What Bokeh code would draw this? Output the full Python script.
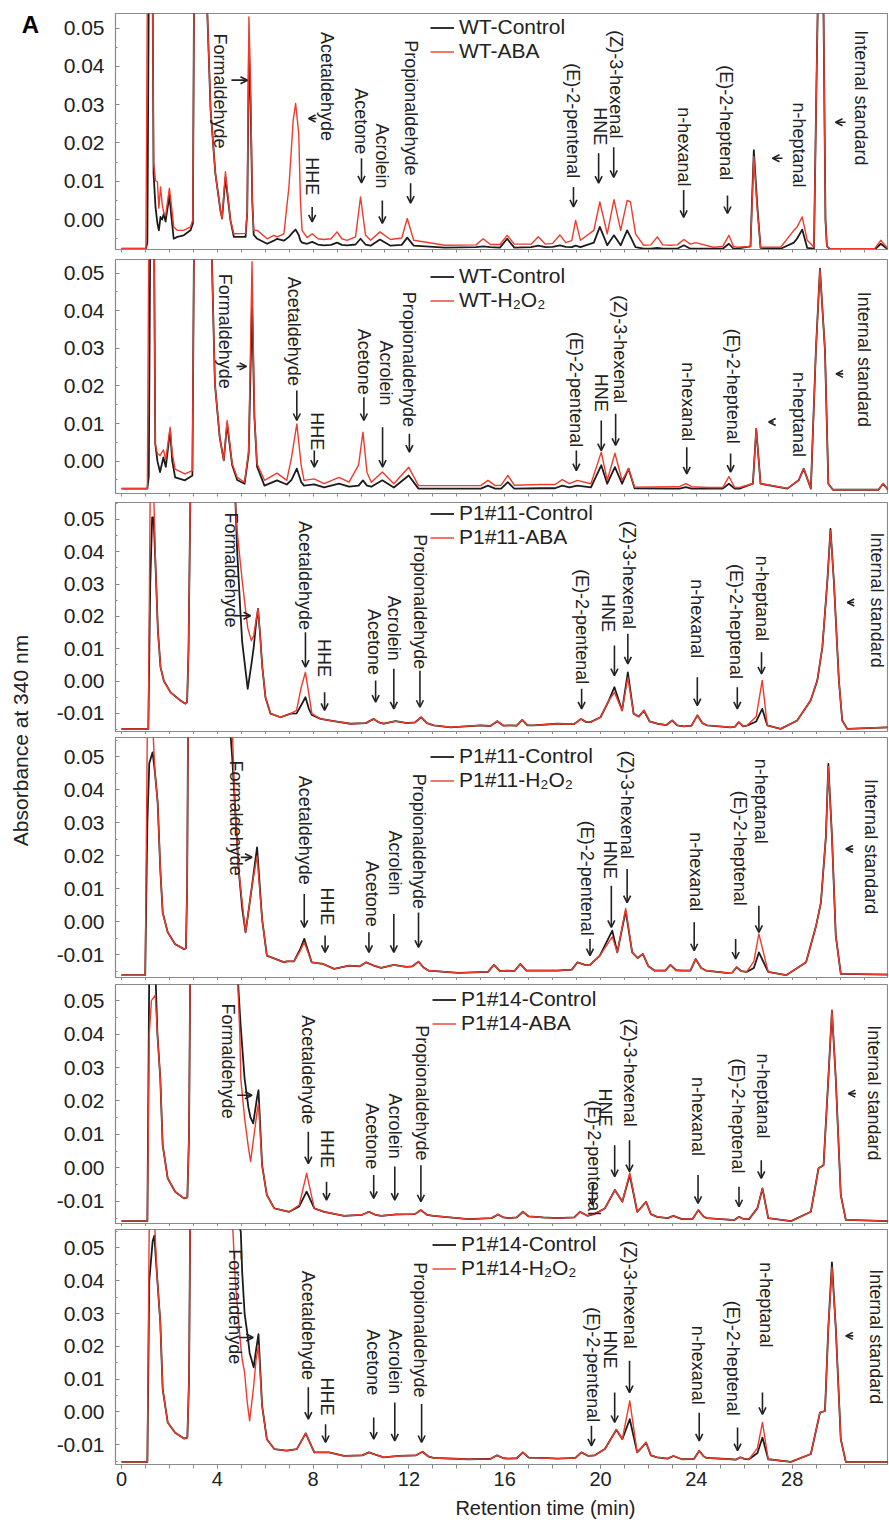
from math import pi
from bokeh.plotting import figure
from bokeh.layouts import row, column
from bokeh.models import (Range1d, FixedTicker, PrintfTickFormatter, Legend, LegendItem,
                          Arrow, OpenHead, ColumnDataSource)
from bokeh.embed import file_html
from bokeh.resources import INLINE
from bokeh.core.properties import value

# ---------------- data (time min, control, treatment) ----------------
P1_ROWS = [
    (0.00, -0.0076, -0.0076), (1.02, -0.0076, -0.0076), (1.08, -0.0060, 0.0600), (1.14, 0.0600, 0.0600),
    (1.30, 0.0600, 0.0600), (1.34, 0.0120, 0.0150), (1.42, 0.0033, 0.0102), (1.50, -0.0010, 0.0098),
    (1.56, -0.0028, 0.0030), (1.63, 0.0007, 0.0085), (1.70, 0.0000, 0.0040), (1.77, 0.0016, 0.0016),
    (1.84, -0.0005, 0.0010), (2.00, 0.0063, 0.0082), (2.08, 0.0010, 0.0040), (2.18, -0.0050, -0.0019),
    (2.33, -0.0045, -0.0028), (2.60, -0.0041, -0.0028), (2.88, -0.0028, -0.0019), (2.98, -0.0010, 0.0000),
    (3.03, 0.0600, 0.0600), (3.55, 0.0600, 0.0600), (3.72, 0.0286, 0.0286), (3.92, 0.0120, 0.0120),
    (4.13, 0.0024, 0.0024), (4.20, 0.0003, 0.0003), (4.34, 0.0110, 0.0125), (4.55, -0.0002, -0.0002),
    (4.69, -0.0045, -0.0037), (5.18, -0.0045, -0.0036), (5.25, 0.0020, 0.0020), (5.32, 0.0450, 0.0529),
    (5.39, 0.0300, 0.0350), (5.46, 0.0050, 0.0050), (5.52, -0.0040, -0.0028), (5.67, -0.0050, -0.0028),
    (6.08, -0.0063, -0.0050), (6.36, -0.0055, -0.0041), (6.50, -0.0050, -0.0045), (6.78, -0.0055, -0.0037),
    (6.99, -0.0045, 0.0085), (7.17, -0.0032, 0.0260), (7.27, -0.0026, 0.0303), (7.40, -0.0040, 0.0225),
    (7.47, -0.0055, 0.0050), (7.54, -0.0060, -0.0028), (7.75, -0.0063, -0.0047), (7.96, -0.0058, -0.0037),
    (8.20, -0.0065, -0.0050), (8.45, -0.0067, -0.0052), (9.00, -0.0060, -0.0032), (9.42, -0.0067, -0.0054),
    (9.77, -0.0065, -0.0045), (9.98, -0.0050, 0.0059), (10.19, -0.0065, -0.0041), (10.40, -0.0068, -0.0054),
    (10.79, -0.0052, -0.0032), (11.23, -0.0068, -0.0052), (11.70, -0.0066, -0.0048), (11.93, -0.0047, 0.0003),
    (12.20, -0.0068, -0.0054), (13.50, -0.0073, -0.0067), (15.10, -0.0070, -0.0050), (16.10, -0.0050, -0.0041),
    (17.40, -0.0068, -0.0045), (18.30, -0.0067, -0.0040), (18.80, -0.0072, -0.0055), (18.96, -0.0068, -0.0002),
    (19.16, -0.0072, -0.0054), (19.72, -0.0060, -0.0028), (19.97, -0.0019, 0.0046), (20.28, -0.0067, -0.0037),
    (20.56, -0.0041, 0.0052), (20.84, -0.0067, -0.0028), (21.11, -0.0028, 0.0050), (21.25, -0.0045, 0.0046),
    (21.46, -0.0072, -0.0037), (21.80, -0.0076, -0.0067), (22.37, -0.0074, -0.0045), (22.90, -0.0076, -0.0067),
    (23.48, -0.0067, -0.0052), (23.97, -0.0076, -0.0060), (24.70, -0.0076, -0.0072), (25.36, -0.0063, -0.0041),
    (25.70, -0.0076, -0.0072), (26.26, -0.0070, -0.0070), (26.33, 0.0060, 0.0050), (26.40, 0.0181, 0.0165),
    (26.54, 0.0040, 0.0030), (26.68, -0.0074, -0.0072), (27.52, -0.0076, -0.0072), (28.07, -0.0060, -0.0028),
    (28.20, -0.0050, -0.0020), (28.42, -0.0026, 0.0007), (28.63, -0.0074, -0.0054), (28.91, -0.0076, -0.0072),
    (29.00, 0.0300, 0.0300), (29.08, 0.0600, 0.0600), (29.30, 0.0600, 0.0600), (29.39, 0.0000, 0.0000),
    (29.45, -0.0070, -0.0070), (29.60, -0.0078, -0.0076), (31.00, -0.0078, -0.0076), (31.70, -0.0063, -0.0054),
    (32.00, -0.0078, -0.0076),
    # baseline between the small bumps
    (8.75, -0.0066, -0.0050), (9.20, -0.0066, -0.0050), (14.80, -0.0072, -0.0066), (15.40, -0.0072, -0.0065),
    (15.80, -0.0073, -0.0065), (16.40, -0.0073, -0.0064), (17.10, -0.0072, -0.0064), (17.70, -0.0072, -0.0064),
    (18.00, -0.0071, -0.0062), (18.55, -0.0071, -0.0060), (22.10, -0.0076, -0.0066), (22.60, -0.0076, -0.0066),
    (23.20, -0.0076, -0.0066), (23.75, -0.0076, -0.0064), (25.10, -0.0076, -0.0070), (25.55, -0.0076, -0.0070),
    (31.45, -0.0078, -0.0075),
]

P2_ROWS = [
    (0.00, -0.0073, -0.0073), (1.08, -0.0073, -0.0073), (1.14, -0.0040, 0.0600), (1.20, 0.0600, 0.0600),
    (1.36, 0.0600, 0.0600), (1.41, 0.0046, 0.0046), (1.50, 0.0000, 0.0020), (1.61, -0.0029, 0.0015),
    (1.75, 0.0010, 0.0030), (1.85, -0.0015, 0.0005), (2.03, 0.0082, 0.0090), (2.12, 0.0000, 0.0020),
    (2.24, -0.0043, -0.0021), (2.65, -0.0051, -0.0034), (2.96, -0.0038, -0.0025), (3.03, 0.0600, 0.0600),
    (3.75, 0.0600, 0.0600), (3.90, 0.0206, 0.0206), (4.10, 0.0064, 0.0064), (4.27, 0.0002, 0.0002),
    (4.41, 0.0100, 0.0108), (4.62, -0.0010, -0.0007), (4.83, -0.0050, -0.0043), (5.14, -0.0060, -0.0056),
    (5.31, 0.0020, 0.0028), (5.45, 0.0420, 0.0530), (5.55, 0.0117, 0.0117), (5.66, -0.0015, -0.0007),
    (5.97, -0.0065, -0.0051), (6.49, -0.0051, -0.0032), (6.90, -0.0062, -0.0051), (7.10, -0.0050, 0.0010),
    (7.32, -0.0020, 0.0099), (7.50, -0.0055, -0.0010), (7.62, -0.0065, -0.0051), (8.04, -0.0062, -0.0047),
    (8.46, -0.0070, -0.0060), (9.08, -0.0060, -0.0043), (9.50, -0.0068, -0.0056), (9.90, -0.0065, -0.0010),
    (10.08, -0.0051, 0.0077), (10.25, -0.0065, -0.0030), (10.43, -0.0068, -0.0056), (10.89, -0.0051, -0.0029),
    (11.37, -0.0070, -0.0060), (11.99, -0.0038, -0.0016), (12.40, -0.0073, -0.0065), (14.00, -0.0073, -0.0065),
    (15.30, -0.0065, -0.0051), (16.13, -0.0056, -0.0038), (17.50, -0.0072, -0.0062), (18.40, -0.0065, -0.0049),
    (19.03, -0.0065, -0.0051), (19.60, -0.0070, -0.0060), (20.03, -0.0011, 0.0024), (20.28, -0.0060, -0.0051),
    (20.60, -0.0016, 0.0021), (20.90, -0.0060, -0.0051), (21.17, -0.0020, -0.0020), (21.42, -0.0072, -0.0069),
    (23.00, -0.0073, -0.0068), (23.56, -0.0069, -0.0060), (24.50, -0.0073, -0.0070), (25.36, -0.0060, -0.0041),
    (25.80, -0.0073, -0.0070), (26.36, -0.0060, -0.0060), (26.50, 0.0086, 0.0086), (26.68, -0.0060, -0.0060),
    (27.80, -0.0073, -0.0072), (28.27, -0.0051, -0.0051), (28.48, -0.0020, -0.0020), (28.78, -0.0073, -0.0073),
    (28.99, 0.0294, 0.0294), (29.16, 0.0512, 0.0510), (29.37, 0.0294, 0.0294), (29.51, -0.0060, -0.0060),
    (29.70, -0.0076, -0.0076), (31.40, -0.0076, -0.0076), (31.80, -0.0060, -0.0060), (32.00, -0.0076, -0.0076),
    # baseline between the small bumps
    (15.00, -0.0073, -0.0065), (15.60, -0.0073, -0.0065), (15.85, -0.0073, -0.0064), (16.40, -0.0073, -0.0064),
    (18.10, -0.0072, -0.0062), (18.70, -0.0070, -0.0060), (23.30, -0.0073, -0.0068), (23.80, -0.0073, -0.0068),
    (25.10, -0.0073, -0.0070), (25.60, -0.0073, -0.0070), (31.60, -0.0076, -0.0076),
]

P3_ROWS = [
    (0.00, -0.0148, -0.0148), (1.12, -0.0148, -0.0148), (1.20, 0.0300, 0.0600), (1.28, 0.0506, 0.0600),
    (1.34, 0.0506, 0.0600), (1.42, 0.0360, 0.0360), (1.52, 0.0156, 0.0156), (1.63, 0.0043, 0.0043),
    (1.77, 0.0000, 0.0000), (2.05, -0.0035, -0.0035), (2.46, -0.0060, -0.0060), (2.67, -0.0070, -0.0070),
    (2.74, -0.0065, -0.0065), (2.80, 0.0100, 0.0100), (2.88, 0.0600, 0.0600), (4.69, 0.0600, 0.0600),
    (4.76, 0.0550, 0.0550), (4.83, 0.0400, 0.0464), (4.97, 0.0207, 0.0360), (5.04, 0.0120, 0.0310),
    (5.18, 0.0032, 0.0220), (5.27, -0.0024, 0.0165), (5.42, 0.0050, 0.0125), (5.52, 0.0104, 0.0140),
    (5.62, 0.0180, 0.0190), (5.70, 0.0223, 0.0223), (5.78, 0.0150, 0.0150), (5.88, 0.0043, 0.0043),
    (6.01, -0.0050, -0.0050), (6.22, -0.0101, -0.0101), (6.64, -0.0112, -0.0112), (7.06, -0.0101, -0.0101),
    (7.31, -0.0100, -0.0091), (7.50, -0.0075, -0.0020), (7.68, -0.0050, 0.0027), (7.82, -0.0085, -0.0040),
    (7.95, -0.0105, -0.0101), (8.31, -0.0117, -0.0117), (8.86, -0.0124, -0.0124), (9.56, -0.0132, -0.0132),
    (10.53, -0.0117, -0.0117), (10.95, -0.0132, -0.0132), (11.44, -0.0124, -0.0124), (11.93, -0.0130, -0.0130),
    (12.51, -0.0112, -0.0112), (13.04, -0.0137, -0.0137), (13.74, -0.0143, -0.0143), (14.99, -0.0137, -0.0137),
    (15.69, -0.0124, -0.0124), (16.24, -0.0137, -0.0137), (16.73, -0.0120, -0.0120), (17.22, -0.0137, -0.0137),
    (18.19, -0.0132, -0.0132), (19.19, -0.0117, -0.0117), (19.58, -0.0127, -0.0127), (20.00, -0.0112, -0.0112),
    (20.35, -0.0060, -0.0060), (20.58, -0.0019, -0.0035), (20.90, -0.0091, -0.0091), (21.14, 0.0027, 0.0011),
    (21.38, -0.0101, -0.0101), (21.81, -0.0091, -0.0091), (22.37, -0.0132, -0.0132), (22.99, -0.0122, -0.0122),
    (23.48, -0.0140, -0.0140), (24.04, -0.0106, -0.0106), (24.45, -0.0137, -0.0137), (25.43, -0.0143, -0.0143),
    (25.77, -0.0127, -0.0127), (26.13, -0.0137, -0.0137), (26.50, -0.0125, -0.0110), (26.75, -0.0086, 0.0002),
    (26.96, -0.0137, -0.0137), (27.52, -0.0148, -0.0148), (28.21, -0.0122, -0.0122), (28.77, -0.0060, -0.0060),
    (29.05, 0.0002, 0.0002), (29.26, 0.0104, 0.0104), (29.47, 0.0310, 0.0310), (29.60, 0.0470, 0.0465),
    (29.74, 0.0310, 0.0310), (29.95, 0.0002, 0.0002), (30.09, -0.0122, -0.0122), (30.30, -0.0148, -0.0148),
    (32.00, -0.0143, -0.0143),
    # baseline between the small bumps
    (10.20, -0.0130, -0.0130), (10.75, -0.0128, -0.0128), (12.25, -0.0128, -0.0128), (12.75, -0.0130, -0.0130),
    (15.40, -0.0139, -0.0139), (15.95, -0.0138, -0.0138), (16.50, -0.0138, -0.0138), (16.95, -0.0137, -0.0137),
    (18.90, -0.0133, -0.0133), (19.40, -0.0127, -0.0127), (21.60, -0.0110, -0.0110), (22.05, -0.0125, -0.0125),
    (22.75, -0.0136, -0.0136), (23.20, -0.0137, -0.0137), (23.80, -0.0138, -0.0138), (24.25, -0.0130, -0.0130),
    (25.60, -0.0142, -0.0142), (25.95, -0.0140, -0.0140),
]

P4_ROWS = [
    (0.00, -0.0162, -0.0162), (0.99, -0.0162, -0.0162), (1.08, 0.0300, 0.0600), (1.16, 0.0480, 0.0600),
    (1.30, 0.0513, 0.0600), (1.40, 0.0450, 0.0450), (1.51, 0.0362, 0.0362), (1.62, 0.0160, 0.0160),
    (1.72, 0.0028, 0.0028), (1.93, -0.0032, -0.0032), (2.24, -0.0068, -0.0068), (2.61, -0.0083, -0.0083),
    (2.69, -0.0080, -0.0080), (2.74, 0.0100, 0.0100), (2.78, 0.0600, 0.0600), (4.52, 0.0600, 0.0600),
    (4.62, 0.0500, 0.0600), (4.73, 0.0362, 0.0362), (4.89, 0.0160, 0.0160), (5.04, 0.0040, 0.0058),
    (5.18, -0.0032, -0.0032), (5.30, 0.0030, 0.0030), (5.45, 0.0109, 0.0109), (5.66, 0.0225, 0.0199),
    (5.87, 0.0008, 0.0008), (6.07, -0.0103, -0.0103), (6.80, -0.0123, -0.0123), (6.90, -0.0120, -0.0120),
    (7.20, -0.0120, -0.0120), (7.45, -0.0085, -0.0090), (7.63, -0.0052, -0.0062), (7.94, -0.0123, -0.0123),
    (8.42, -0.0128, -0.0128), (8.88, -0.0143, -0.0143), (9.50, -0.0133, -0.0133), (10.22, -0.0123, -0.0123),
    (10.84, -0.0140, -0.0140), (11.37, -0.0131, -0.0131), (11.90, -0.0137, -0.0137), (12.40, -0.0121, -0.0121),
    (12.81, -0.0148, -0.0148), (14.06, -0.0155, -0.0155), (15.55, -0.0131, -0.0131), (16.10, -0.0148, -0.0148),
    (16.65, -0.0128, -0.0128), (17.40, -0.0148, -0.0148), (18.20, -0.0148, -0.0148), (19.04, -0.0123, -0.0123),
    (19.35, -0.0131, -0.0131), (19.56, -0.0131, -0.0131), (19.97, -0.0103, -0.0103), (20.49, -0.0027, -0.0046),
    (20.70, -0.0093, -0.0093), (21.05, 0.0033, 0.0040), (21.32, -0.0093, -0.0093), (21.77, -0.0098, -0.0098),
    (22.25, -0.0148, -0.0148), (22.92, -0.0131, -0.0131), (23.40, -0.0148, -0.0148), (23.97, -0.0113, -0.0113),
    (24.40, -0.0148, -0.0148), (25.26, -0.0155, -0.0155), (25.68, -0.0138, -0.0138), (26.10, -0.0152, -0.0152),
    (26.40, -0.0140, -0.0120), (26.61, -0.0093, -0.0037), (27.00, -0.0152, -0.0152), (27.75, -0.0162, -0.0162),
    (28.58, -0.0123, -0.0123), (29.00, -0.0012, -0.0012), (29.20, 0.0058, 0.0058), (29.41, 0.0260, 0.0260),
    (29.51, 0.0478, 0.0470), (29.66, 0.0260, 0.0260), (29.82, -0.0042, -0.0042), (30.03, -0.0158, -0.0158),
    (32.00, -0.0160, -0.0160),
    # baseline between the small bumps
    (9.95, -0.0135, -0.0135), (10.50, -0.0132, -0.0132), (12.15, -0.0135, -0.0135), (12.60, -0.0138, -0.0138),
    (15.30, -0.0152, -0.0152), (15.80, -0.0150, -0.0150), (16.40, -0.0150, -0.0150), (16.90, -0.0148, -0.0148),
    (18.80, -0.0145, -0.0145), (21.55, -0.0110, -0.0110), (22.00, -0.0135, -0.0135), (22.70, -0.0148, -0.0148),
    (23.15, -0.0147, -0.0147), (23.75, -0.0148, -0.0148), (24.20, -0.0140, -0.0140), (25.50, -0.0154, -0.0154),
    (25.88, -0.0150, -0.0150),
]

P5_ROWS = [
    (0.00, -0.0159, -0.0159), (1.08, -0.0159, -0.0159), (1.16, 0.0600, 0.0400), (1.25, 0.0600, 0.0500),
    (1.41, 0.0600, 0.0516), (1.50, 0.0400, 0.0400), (1.62, 0.0267, 0.0267), (1.72, 0.0068, 0.0068),
    (1.93, -0.0031, -0.0031), (2.24, -0.0071, -0.0071), (2.61, -0.0091, -0.0091), (2.75, -0.0088, -0.0088),
    (2.82, 0.0100, 0.0100), (2.87, 0.0600, 0.0600), (4.83, 0.0600, 0.0600), (4.94, 0.0466, 0.0400),
    (4.98, 0.0420, 0.0267), (5.14, 0.0267, 0.0148), (5.30, 0.0180, 0.0060), (5.39, 0.0150, 0.0019),
    (5.50, 0.0133, 0.0080), (5.66, 0.0210, 0.0168), (5.72, 0.0232, 0.0193), (5.87, 0.0008, 0.0008),
    (6.07, -0.0081, -0.0081), (6.38, -0.0121, -0.0121), (7.00, -0.0131, -0.0131), (7.42, -0.0115, -0.0111),
    (7.73, -0.0071, -0.0016), (8.05, -0.0121, -0.0121), (8.46, -0.0131, -0.0131), (9.29, -0.0143, -0.0143),
    (10.33, -0.0131, -0.0131), (10.85, -0.0143, -0.0143), (11.47, -0.0139, -0.0139), (12.50, -0.0126, -0.0126),
    (13.02, -0.0143, -0.0143), (14.48, -0.0153, -0.0153), (15.72, -0.0139, -0.0139), (16.15, -0.0150, -0.0150),
    (16.76, -0.0131, -0.0131), (17.60, -0.0148, -0.0148), (18.20, -0.0150, -0.0150), (19.14, -0.0131, -0.0131),
    (19.45, -0.0143, -0.0143), (19.76, -0.0137, -0.0137), (20.18, -0.0121, -0.0121), (20.60, -0.0066, -0.0066),
    (20.91, -0.0101, -0.0101), (21.22, -0.0021, -0.0015), (21.53, -0.0131, -0.0131), (21.90, -0.0101, -0.0101),
    (22.36, -0.0146, -0.0146), (23.04, -0.0143, -0.0143), (23.40, -0.0153, -0.0153), (24.08, -0.0126, -0.0126),
    (24.43, -0.0150, -0.0150), (25.45, -0.0155, -0.0155), (25.78, -0.0146, -0.0146), (26.20, -0.0153, -0.0153),
    (26.55, -0.0120, -0.0120), (26.76, -0.0061, -0.0061), (27.00, -0.0150, -0.0150), (27.95, -0.0159, -0.0159),
    (28.78, -0.0131, -0.0131), (29.10, -0.0001, -0.0001), (29.31, 0.0008, 0.0008), (29.51, 0.0267, 0.0267),
    (29.66, 0.0470, 0.0471), (29.82, 0.0267, 0.0267), (30.03, -0.0081, -0.0081), (30.24, -0.0155, -0.0155),
    (32.00, -0.0159, -0.0159),
    # baseline between the small bumps
    (10.05, -0.0140, -0.0140), (10.60, -0.0140, -0.0140), (12.25, -0.0138, -0.0138), (12.75, -0.0140, -0.0140),
    (15.45, -0.0150, -0.0150), (15.95, -0.0148, -0.0148), (16.50, -0.0148, -0.0148), (17.00, -0.0145, -0.0145),
    (18.90, -0.0148, -0.0148), (21.70, -0.0118, -0.0118), (22.10, -0.0138, -0.0138), (22.80, -0.0150, -0.0150),
    (23.85, -0.0152, -0.0152), (24.30, -0.0145, -0.0145), (25.60, -0.0155, -0.0155), (25.95, -0.0152, -0.0152),
]

P6_ROWS = [
    (0.00, -0.0152, -0.0152), (1.08, -0.0152, -0.0152), (1.16, 0.0400, 0.0600), (1.30, 0.0520, 0.0600),
    (1.37, 0.0537, 0.0600), (1.48, 0.0420, 0.0420), (1.62, 0.0273, 0.0273), (1.72, 0.0070, 0.0070),
    (1.93, -0.0032, -0.0032), (2.24, -0.0063, -0.0063), (2.61, -0.0081, -0.0081), (2.75, -0.0078, -0.0078),
    (2.82, 0.0100, 0.0100), (2.87, 0.0600, 0.0600), (4.62, 0.0600, 0.0600), (4.75, 0.0600, 0.0400),
    (4.98, 0.0550, 0.0200), (5.04, 0.0425, 0.0160), (5.14, 0.0300, 0.0120), (5.25, 0.0242, 0.0030),
    (5.35, 0.0180, -0.0027), (5.52, 0.0136, 0.0080), (5.62, 0.0190, 0.0160), (5.72, 0.0237, 0.0202),
    (5.87, 0.0019, 0.0019), (6.07, -0.0083, -0.0083), (6.38, -0.0113, -0.0113), (6.90, -0.0118, -0.0118),
    (7.32, -0.0113, -0.0113), (7.69, -0.0065, -0.0065), (8.05, -0.0123, -0.0123), (8.67, -0.0123, -0.0123),
    (9.29, -0.0134, -0.0134), (10.33, -0.0123, -0.0123), (10.95, -0.0138, -0.0138), (11.57, -0.0134, -0.0134),
    (12.57, -0.0121, -0.0121), (13.02, -0.0140, -0.0140), (14.48, -0.0144, -0.0144), (15.68, -0.0132, -0.0132),
    (16.15, -0.0142, -0.0142), (16.76, -0.0123, -0.0123), (17.60, -0.0140, -0.0140), (18.20, -0.0142, -0.0142),
    (19.20, -0.0123, -0.0123), (19.49, -0.0134, -0.0134), (19.76, -0.0132, -0.0132), (20.18, -0.0113, -0.0113),
    (20.66, -0.0054, -0.0054), (20.91, -0.0083, -0.0083), (21.22, -0.0022, 0.0034), (21.53, -0.0123, -0.0123),
    (21.90, -0.0093, -0.0093), (22.36, -0.0138, -0.0138), (23.04, -0.0134, -0.0134), (23.40, -0.0144, -0.0144),
    (24.12, -0.0118, -0.0118), (24.43, -0.0140, -0.0140), (25.45, -0.0144, -0.0144), (25.84, -0.0138, -0.0138),
    (26.20, -0.0144, -0.0144), (26.55, -0.0125, -0.0110), (26.76, -0.0078, -0.0032), (27.00, -0.0144, -0.0144),
    (27.95, -0.0152, -0.0152), (28.78, -0.0128, -0.0128), (29.16, -0.0002, -0.0002), (29.37, 0.0003, 0.0003),
    (29.51, 0.0257, 0.0257), (29.66, 0.0456, 0.0441), (29.82, 0.0257, 0.0257), (30.03, -0.0083, -0.0083),
    (30.24, -0.0152, -0.0152), (32.00, -0.0152, -0.0152),
    # baseline between the small bumps
    (10.05, -0.0132, -0.0132), (10.60, -0.0130, -0.0130), (12.30, -0.0132, -0.0132), (12.80, -0.0135, -0.0135),
    (15.40, -0.0143, -0.0143), (15.95, -0.0141, -0.0141), (16.50, -0.0141, -0.0141), (17.00, -0.0139, -0.0139),
    (18.95, -0.0140, -0.0140), (21.70, -0.0110, -0.0110), (22.10, -0.0132, -0.0132), (22.80, -0.0142, -0.0142),
    (23.90, -0.0143, -0.0143), (24.30, -0.0135, -0.0135), (25.65, -0.0145, -0.0145), (26.00, -0.0143, -0.0143),
]

SERIES = [
    ("WT-Control", "WT-ABA"),
    ("WT-Control", "WT-H\u2082O\u2082"),
    ("P1#11-Control", "P1#11-ABA"),
    ("P1#11-Control", "P1#11-H\u2082O\u2082"),
    ("P1#14-Control", "P1#14-ABA"),
    ("P1#14-Control", "P1#14-H\u2082O\u2082"),
]

NAMES = ["Formaldehyde", "Acetaldehyde", "HHE", "Acetone", "Acrolein", "Propionaldehyde",
         "(E)-2-pentenal", "HNE", "(Z)-3-hexenal", "n-hexanal", "(E)-2-heptenal", "n-heptanal",
         "Internal standard"]

# label anchor (x, top y) and arrow (x0, y0, x1, y1) per panel, same order as NAMES
P1_LAB = [(4.13, 0.0486), (8.56, 0.0490), (7.96, 0.0163), (10.02, 0.0343), (10.89, 0.0251), (12.07, 0.0468),
          (18.87, 0.0408), (19.96, 0.0293), (20.63, 0.0494), (23.47, 0.0293), (25.22, 0.0403), (28.27, 0.0306),
          (30.86, 0.0494)]
P1_ARR = [(4.59, 0.0364, 5.26, 0.0364), (8.14, 0.0264, 7.81, 0.0264), (7.96, 0.0033, 7.96, -0.0006),
          (10.02, 0.0160, 10.02, 0.0096), (10.89, 0.0050, 10.89, -0.0010), (12.07, 0.0095, 12.07, 0.0043),
          (18.87, 0.0085, 18.87, 0.0033), (19.92, 0.0173, 19.92, 0.0095), (20.55, 0.0189, 20.55, 0.0110),
          (23.47, 0.0077, 23.47, 0.0006), (25.30, 0.0063, 25.30, 0.0016), (27.60, 0.0160, 27.18, 0.0160),
          (30.23, 0.0254, 29.81, 0.0254)]
P2_LAB = [(4.31, 0.0498), (7.22, 0.0490), (8.15, 0.0130), (10.12, 0.0352), (11.05, 0.0321), (12.02, 0.0450),
          (18.98, 0.0343), (20.01, 0.0232), (20.80, 0.0441), (23.65, 0.0263), (25.51, 0.0352), (28.27, 0.0237),
          (31.00, 0.0450)]
P2_ARR = [(4.80, 0.0252, 5.22, 0.0252), (7.32, 0.0188, 7.32, 0.0108), (8.05, 0.0028, 8.05, -0.0016),
          (10.12, 0.0170, 10.12, 0.0108), (10.90, 0.0090, 10.90, -0.0016), (12.02, 0.0073, 12.02, 0.0024),
          (18.99, 0.0028, 18.99, -0.0025), (20.03, 0.0108, 20.03, 0.0028), (20.63, 0.0126, 20.63, 0.0042),
          (23.60, 0.0037, 23.60, -0.0034), (25.43, 0.0020, 25.43, -0.0029), (27.23, 0.0104, 27.02, 0.0104),
          (30.13, 0.0232, 29.83, 0.0232)]
P3_LAB = [(4.57, 0.0521), (7.65, 0.0495), (8.45, 0.0130), (10.53, 0.0223), (11.37, 0.0264), (12.45, 0.0454),
          (19.24, 0.0346), (20.31, 0.0269), (21.18, 0.0495), (24.04, 0.0315), (25.67, 0.0362), (26.75, 0.0387),
          (31.55, 0.0459)]
P3_ARR = [(4.69, 0.0202, 5.39, 0.0202), (7.68, 0.0151, 7.68, 0.0043), (8.48, -0.0035, 8.48, -0.0091),
          (10.61, 0.0002, 10.61, -0.0065), (11.37, 0.0038, 11.37, -0.0086), (12.46, 0.0032, 12.46, -0.0081),
          (19.21, -0.0024, 19.21, -0.0086), (20.58, 0.0110, 20.58, 0.0017), (21.14, 0.0146, 21.14, 0.0053),
          (24.04, 0.0012, 24.04, -0.0076), (25.71, -0.0019, 25.71, -0.0086), (26.72, 0.0089, 26.72, 0.0022),
          (30.58, 0.0243, 30.30, 0.0243)]
P4_LAB = [(4.76, 0.0488), (7.68, 0.0442), (8.56, 0.0104), (10.44, 0.0185), (11.40, 0.0276), (12.40, 0.0448),
          (19.42, 0.0306), (20.38, 0.0245), (21.11, 0.0518), (23.97, 0.0271), (25.84, 0.0397), (26.71, 0.0494),
          (31.30, 0.0432)]
P4_ARR = [(4.98, 0.0195, 5.45, 0.0195), (7.63, 0.0084, 7.63, -0.0017), (8.50, -0.0042, 8.50, -0.0093),
          (10.33, -0.0032, 10.33, -0.0093), (11.37, 0.0023, 11.37, -0.0093), (12.40, 0.0028, 12.40, -0.0078),
          (19.56, -0.0052, 19.56, -0.0103), (20.45, 0.0109, 20.45, -0.0017), (21.11, 0.0160, 21.11, 0.0058),
          (23.91, -0.0002, 23.91, -0.0088), (25.64, -0.0052, 25.64, -0.0113), (26.61, 0.0048, 26.61, -0.0032),
          (30.55, 0.0220, 30.24, 0.0220)]
P5_LAB = [(4.43, 0.0491), (7.77, 0.0456), (8.58, 0.0113), (10.47, 0.0193), (11.41, 0.0222), (12.55, 0.0426),
          (19.71, 0.0202), (20.17, 0.0237), (21.21, 0.0446), (24.07, 0.0272), (25.72, 0.0327), (26.80, 0.0342),
          (31.40, 0.0426)]
P5_ARR = [(4.83, 0.0217, 5.45, 0.0217), (7.80, 0.0108, 7.80, 0.0013), (8.56, -0.0041, 8.56, -0.0096),
          (10.53, -0.0021, 10.53, -0.0091), (11.41, 0.0004, 11.41, -0.0096), (12.50, 0.0008, 12.50, -0.0101),
          (19.66, -0.0051, 19.66, -0.0111), (20.59, 0.0068, 20.59, -0.0026), (21.21, 0.0083, 21.21, -0.0011),
          (24.07, -0.0021, 24.07, -0.0106), (25.78, -0.0056, 25.78, -0.0116), (26.71, 0.0023, 26.71, -0.0031),
          (30.66, 0.0222, 30.34, 0.0222)]
P6_LAB = [(4.72, 0.0496), (7.77, 0.0430), (8.58, 0.0105), (10.52, 0.0252), (11.41, 0.0252), (12.46, 0.0456),
          (19.67, 0.0319), (20.38, 0.0248), (21.21, 0.0522), (24.07, 0.0263), (25.51, 0.0339), (26.92, 0.0456),
          (31.48, 0.0435)]
P6_ARR = [(4.90, 0.0227, 5.50, 0.0227), (7.80, 0.0075, 7.80, -0.0022), (8.52, -0.0037, 8.52, -0.0093),
          (10.53, -0.0017, 10.53, -0.0083), (11.41, 0.0029, 11.41, -0.0088), (12.53, 0.0024, 12.53, -0.0093),
          (19.62, -0.0042, 19.62, -0.0103), (20.59, 0.0059, 20.59, -0.0032), (21.21, 0.0156, 21.21, 0.0059),
          (24.12, -0.0002, 24.12, -0.0088), (25.72, -0.0047, 25.72, -0.0118), (26.76, 0.0059, 26.76, -0.0007),
          (30.55, 0.0232, 30.24, 0.0232)]

X_TICKS = [0, 4, 8, 12, 16, 20, 24, 28]
Y_TICKS_A = [0.0, 0.01, 0.02, 0.03, 0.04, 0.05]
Y_TICKS_B = [-0.01, 0.0, 0.01, 0.02, 0.03, 0.04, 0.05]

# ---------------- styling / layout ----------------
FONT = "Liberation Sans"
BLACK = "#1c1c1c"
RED = "#ef3b2b"
FRAME = "#8a8a8a"
TXT = "#222222"

SIDE_W = 52
PANEL_W = 836
X_RANGE = (-0.25, 31.98)

# (y range, frame height, top border, bottom border, legend location)
LAYOUT = [
    ((-0.0078, 0.0538), 236, 13, 5, (315, 186)),
    ((-0.0086, 0.0536), 234, 5, 5, (315, 181)),
    ((-0.0156, 0.0552), 229, 4, 3, (315, 182)),
    ((-0.0169, 0.0558), 240, 3, 3, (315, 185)),
    ((-0.0166, 0.0548), 239, 4, 3, (317, 188)),
    ((-0.0160, 0.0556), 235, 3, 30, (317, 184)),
]
STRIP_H = 29


def make_panel(rows, names, lab, arr, lay, yticks, last):
    yr, frame_h, btop, bbot, leg_loc = lay
    rows = sorted(rows)
    t = [r[0] for r in rows]
    ctrl = [r[1] for r in rows]
    trt = [r[2] for r in rows]
    p = figure(width=PANEL_W, height=btop + frame_h + bbot,
               x_range=Range1d(*X_RANGE), y_range=Range1d(yr[0], yr[1]),
               output_backend="svg", toolbar_location=None, title=None,
               min_border_left=63, min_border_right=1,
               min_border_top=btop, min_border_bottom=bbot)
    p.grid.visible = False
    p.outline_line_color = FRAME
    p.outline_line_width = 1.2
    p.background_fill_color = "white"

    # x axis
    xa = p.xaxis[0]
    xa.axis_line_color = FRAME
    xa.major_tick_line_color = FRAME
    xa.minor_tick_line_color = FRAME
    xa.major_tick_in = 0
    xa.minor_tick_in = 0
    if last:
        xa.ticker = FixedTicker(ticks=X_TICKS, minor_ticks=list(range(0, 32)))
        xa.major_tick_out = 4
        xa.minor_tick_out = 4
        xa.major_label_text_font = FONT
        xa.major_label_text_font_size = "20px"
        xa.major_label_text_color = TXT
        xa.major_label_standoff = 3
    else:
        xa.ticker = FixedTicker(ticks=[], minor_ticks=list(range(0, 32)))
        xa.major_tick_out = 3
        xa.minor_tick_out = 3
        xa.major_label_standoff = 0

    # y axis
    ya = p.yaxis[0]
    minor = [round(v * 0.005, 4) for v in range(-3, 12)]
    ya.ticker = FixedTicker(ticks=yticks, minor_ticks=minor)
    ya.formatter = PrintfTickFormatter(format="%.2f")
    ya.axis_line_color = FRAME
    ya.major_tick_line_color = FRAME
    ya.minor_tick_line_color = FRAME
    ya.major_tick_in = 4
    ya.major_tick_out = 0
    ya.minor_tick_in = 2
    ya.minor_tick_out = 0
    ya.major_label_standoff = 11
    ya.major_label_text_font = FONT
    ya.major_label_text_font_size = "21px"
    ya.major_label_text_color = TXT

    r_c = p.line(t, ctrl, line_color=BLACK, line_width=1.8, line_join="round")
    r_t = p.line(t, trt, line_color=RED, line_width=1.4, line_join="round")

    leg = Legend(items=[LegendItem(label=names[0], renderers=[r_c]),
                        LegendItem(label=names[1], renderers=[r_t])],
                 location=leg_loc, orientation="vertical",
                 label_text_font=FONT, label_text_font_size="21px", label_text_color=TXT,
                 glyph_width=24, glyph_height=23, label_height=23, label_standoff=5,
                 spacing=0, padding=0, margin=0,
                 background_fill_alpha=0, border_line_alpha=0)
    p.add_layout(leg)

    p.text(x=[a[0] for a in lab], y=[a[1] for a in lab], text=NAMES,
           angle=-pi / 2, text_align="left", text_baseline="middle",
           text_font=value(FONT), text_font_size="18px", text_color=TXT)

    src = ColumnDataSource(dict(x0=[a[0] for a in arr], y0=[a[1] for a in arr],
                                x1=[a[2] for a in arr], y1=[a[3] for a in arr]))
    p.add_layout(Arrow(source=src, x_start="x0", y_start="y0", x_end="x1", y_end="y1",
                       line_color=TXT, line_width=1.6,
                       end=OpenHead(size=7, line_color=TXT, line_width=1.6)))
    return p


ROWS = [P1_ROWS, P2_ROWS, P3_ROWS, P4_ROWS, P5_ROWS, P6_ROWS]
LABS = [P1_LAB, P2_LAB, P3_LAB, P4_LAB, P5_LAB, P6_LAB]
ARRS = [P1_ARR, P2_ARR, P3_ARR, P4_ARR, P5_ARR, P6_ARR]

panels = []
for i in range(6):
    yt = Y_TICKS_A if i < 2 else Y_TICKS_B
    panels.append(make_panel(ROWS[i], SERIES[i], LABS[i], ARRS[i], LAYOUT[i], yt, i == 5))

# x-axis title strip (shares the time scale of the panels)
strip = figure(width=PANEL_W, height=STRIP_H, x_range=Range1d(*X_RANGE), y_range=Range1d(0, 1),
               output_backend="svg", toolbar_location=None, title=None,
               x_axis_type=None, y_axis_type=None,
               min_border_left=63, min_border_right=1, min_border_top=0, min_border_bottom=0)
strip.grid.visible = False
strip.outline_line_color = None
strip.text(x=[17.7], y=[0.52], text=["Retention time (min)"], text_align="center",
           text_baseline="middle", text_font=value(FONT), text_font_size="20px", text_color=TXT)
panels.append(strip)

total_h = sum(l[2] + l[1] + l[3] for l in LAYOUT) + STRIP_H

side = figure(width=SIDE_W, height=total_h, x_range=Range1d(0, SIDE_W), y_range=Range1d(0, total_h),
              output_backend="svg", toolbar_location=None, title=None,
              x_axis_type=None, y_axis_type=None,
              min_border_left=0, min_border_right=0, min_border_top=0, min_border_bottom=0)
side.grid.visible = False
side.outline_line_color = None
side.text(x=[30], y=[total_h - 24], text=["A"], text_align="center", text_baseline="middle",
          text_font=value(FONT), text_font_size="24px", text_font_style="bold", text_color="black")
side.text(x=[20], y=[total_h - 740], text=["Absorbance at 340 nm"], angle=pi / 2,
          text_align="center", text_baseline="middle",
          text_font=value(FONT), text_font_size="21px", text_color=TXT)

layout = row(side, column(*panels))
open("out.html", "w").write(file_html(layout, INLINE))
